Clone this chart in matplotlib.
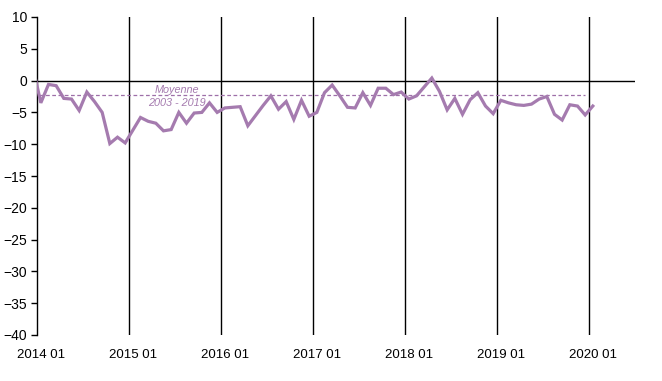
"""Indicator chart, monthly values 2014-2020 with 2003-2019 average"""

import numpy as np
import matplotlib
matplotlib.use("Agg")
import matplotlib.pyplot as plt

# monthly values, first one is 2013 12 (clipped by the axis), last is 2020 01
values = [1.9,
          -3.5, -0.6, -0.8, -2.8, -2.9, -4.7, -1.8, -3.3, -5.0, -9.9, -8.9, -9.8,
          -7.8, -5.8, -6.4, -6.7, -7.9, -7.7, -5.0, -6.7, -5.1, -5.0, -3.5, -5.0,
          -4.3, -4.2, -4.1, -7.1, -5.5, -3.9, -2.4, -4.5, -3.3, -6.1, -3.1, -5.6,
          -5.0, -1.9, -0.7, -2.4, -4.2, -4.3, -1.9, -3.9, -1.2, -1.2, -2.2, -1.8,
          -2.9, -2.4, -1.0, 0.4, -1.7, -4.6, -2.8, -5.3, -3.0, -1.9, -4.0, -5.2,
          -3.1, -3.5, -3.8, -3.9, -3.7, -2.9, -2.5, -5.3, -6.2, -3.8, -4.0, -5.4,
          -4.0]
mean_value = -2.2  # moyenne 2003 - 2019
mean_months = 73   # 2013 12 .. 2019 12

year_labels = ["2014 01", "2015 01", "2016 01", "2017 01",
               "2018 01", "2019 01", "2020 01"]

purple = "#A57BAF"
font = ["Liberation Sans", "DejaVu Sans"]


def main():
    fig = plt.figure(figsize=(6.62, 3.81), dpi=100)
    ax = fig.add_axes([37 / 662, 46 / 381, 598 / 662, 318 / 381])

    # month k (0 = 2014 01) sits in the middle of its slot
    x = np.arange(-1, len(values) - 1) + 0.5
    ax.plot(x, values, color=purple, lw=2.3, solid_joinstyle="miter", zorder=3)

    x_mean = np.arange(-1, mean_months - 1) + 0.5
    ax.plot(x_mean, [mean_value] * mean_months, color="#9E6FA8", lw=0.9,
            ls=(0, (3, 2)), zorder=2)

    ax.axhline(0, color="black", lw=1, zorder=1)
    for j in range(1, len(year_labels)):
        ax.axvline(12 * j, color="black", lw=1, zorder=1)

    ax.text(18.3, -1.4, "Moyenne", color=purple, style="italic",
            fontsize=7.8, ha="center", va="center", family=font)
    ax.text(18.3, -3.5, "2003 - 2019", color=purple, style="italic",
            fontsize=7.8, ha="center", va="center", family=font)

    ax.set_xlim(0, 78)
    ax.set_ylim(-40, 10)
    ax.set_yticks(range(-40, 11, 5))
    ax.set_xticks([12 * j + 0.5 for j in range(len(year_labels))])
    ax.set_xticklabels(year_labels)

    for s in ["top", "right", "bottom"]:
        ax.spines[s].set_visible(False)
    ax.spines["left"].set_linewidth(1)
    ax.tick_params(axis="x", length=0, pad=10)
    ax.tick_params(axis="y", length=4, width=1, direction="out", pad=3)
    for lab in ax.get_xticklabels():
        lab.set_family(font)
        lab.set_fontsize(9.5)
    for lab in ax.get_yticklabels():
        lab.set_family(font)
        lab.set_fontsize(10)

    fig.savefig("out.png", dpi=100)


if __name__ == "__main__":
    main()
